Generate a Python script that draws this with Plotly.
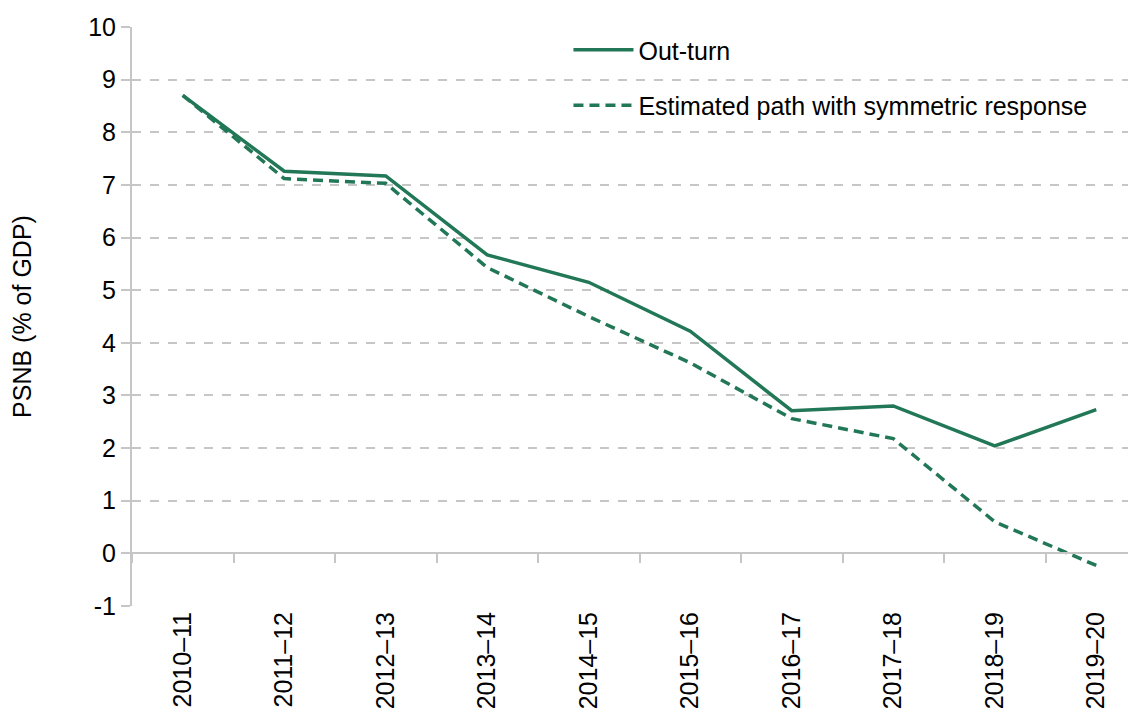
import plotly.graph_objects as go

years = ['2010–11', '2011–12', '2012–13', '2013–14', '2014–15',
         '2015–16', '2016–17', '2017–18', '2018–19', '2019–20']
outturn = [8.70, 7.26, 7.17, 5.67, 5.15, 4.22, 2.71, 2.80, 2.04, 2.73]
symmetric = [8.70, 7.12, 7.03, 5.43, 4.50, 3.62, 2.56, 2.18, 0.60, -0.23]
y_ticks = [-1, 0, 1, 2, 3, 4, 5, 6, 7, 8, 9, 10]
y_tick_text = ['-1', '0', '1', '2', '3', '4', '5', '6', '7', '8', '9', '10']

green = '#217756'
grey = '#c6c6c6'
font = 'Liberation Sans, Arial, sans-serif'

fig = go.Figure()

fig.add_trace(go.Scatter(
    x=years, y=outturn, mode='lines', name='Out-turn',
    line=dict(color=green, width=3.5), legendgroup='a'
))
fig.add_trace(go.Scatter(
    x=years, y=symmetric, mode='lines',
    name='Estimated path with symmetric response',
    line=dict(color=green, width=3.5, dash='10px,6px'), legendgroup='b'
))
# invisible trace so the zero-line axis (ticks between categories) is drawn
fig.add_trace(go.Scatter(
    x=years, y=[None] * len(years), xaxis='x2', showlegend=False,
    hoverinfo='skip'
))

# the page body adds 8px, so margins are offset by that;
# the plot area runs slightly past the right edge of the window
fig.update_layout(
    width=1150, height=724,
    margin=dict(l=124, r=11, t=19, b=126),
    paper_bgcolor='white', plot_bgcolor='white',
    font=dict(family=font, size=25, color='black'),
    showlegend=True,
    legend=dict(
        x=0.43, y=1.0, xanchor='left', yanchor='top',
        bgcolor='rgba(0,0,0,0)', font=dict(size=25),
        traceorder='grouped', tracegroupgap=20,
        itemwidth=60
    ),
    xaxis=dict(
        type='category', categoryorder='array', categoryarray=years,
        range=[-0.5, 9.5], showgrid=False, showline=False, zeroline=False,
        ticks='', tickangle=-90, tickfont=dict(size=25), automargin=False
    ),
    xaxis2=dict(
        type='category', categoryorder='array', categoryarray=years,
        range=[-0.5, 9.5], overlaying='x', anchor='free', position=1 / 11,
        showline=True, linecolor=grey, linewidth=2,
        ticks='outside', tickson='boundaries', ticklen=9, tickwidth=2,
        tickcolor=grey, showticklabels=False, showgrid=False,
        automargin=False
    ),
    yaxis=dict(
        range=[-1, 10], tickvals=y_ticks, ticktext=y_tick_text,
        showgrid=True, gridcolor=grey, gridwidth=1.5, griddash='dash',
        zeroline=True, zerolinecolor=grey, zerolinewidth=2,
        showline=True, linecolor=grey, linewidth=2,
        ticks='outside', ticklen=9, tickcolor=grey, tickwidth=1.5,
        tickfont=dict(size=25), automargin=False,
        title=dict(text='PSNB (% of GDP)', font=dict(size=25), standoff=50)
    )
)

fig.write_html('out.html')
